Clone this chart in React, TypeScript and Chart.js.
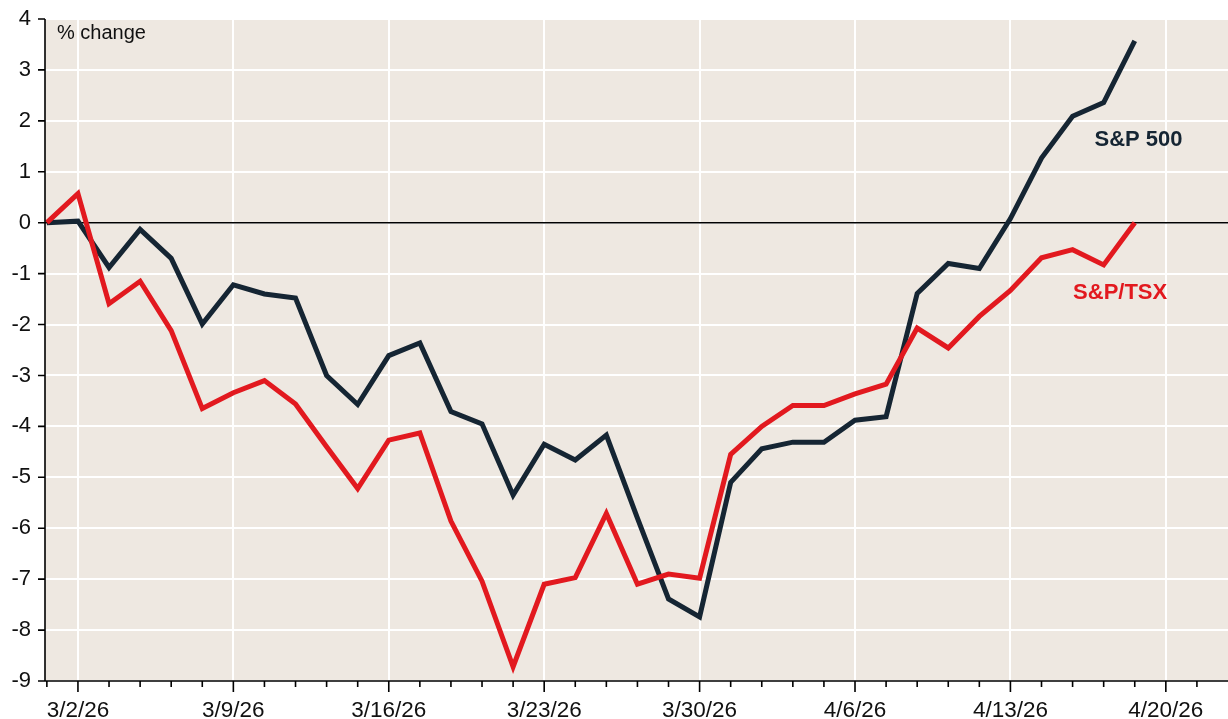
import React, { useEffect, useRef } from "react";
import { Chart, registerables } from "chart.js";

Chart.register(...registerables);

// Trading days on the axis (index = position on the x scale)
const tradingDays: string[] = [
  "2/27/26",
  "3/2/26", "3/3/26", "3/4/26", "3/5/26", "3/6/26",
  "3/9/26", "3/10/26", "3/11/26", "3/12/26", "3/13/26",
  "3/16/26", "3/17/26", "3/18/26", "3/19/26", "3/20/26",
  "3/23/26", "3/24/26", "3/25/26", "3/26/26", "3/27/26",
  "3/30/26", "3/31/26", "4/1/26", "4/2/26", "4/3/26",
  "4/6/26", "4/7/26", "4/8/26", "4/9/26", "4/10/26",
  "4/13/26", "4/14/26", "4/15/26", "4/16/26", "4/17/26",
  "4/20/26", "4/21/26", "4/22/26",
];

const tickLabels: string[] = ["3/2/26", "3/9/26", "3/16/26", "3/23/26", "3/30/26", "4/6/26", "4/13/26", "4/20/26"];

// % change since 2/27/26
const sp500: number[] = [
  0, 0.03, -0.88, -0.13, -0.7, -1.99, -1.22, -1.4, -1.48, -3.0, -3.57, -2.61, -2.36, -3.71, -3.95, -5.35,
  -4.35, -4.66, -4.17, -5.8, -7.39, -7.74, -5.1, -4.44, -4.31, -4.31, -3.88, -3.81, -1.39, -0.8, -0.9, 0.08,
  1.27, 2.09, 2.36, 3.57,
];
const tsx: number[] = [
  0, 0.57, -1.59, -1.15, -2.12, -3.65, -3.34, -3.1, -3.56, -4.4, -5.22, -4.27, -4.13, -5.86, -7.04, -8.72,
  -7.1, -6.97, -5.71, -7.1, -6.9, -6.98, -4.55, -4.0, -3.59, -3.59, -3.36, -3.17, -2.07, -2.46, -1.84, -1.33,
  -0.69, -0.53, -0.83, 0.0,
];

const seriesNames = ["S&P 500", "S&P/TSX"];
const NAVY = "#152533";
const RED = "#e2191f";
const BG = "#eee8e1";
const FONT = "'Liberation Sans', Arial, sans-serif";

export default function App() {
  const ref = useRef<HTMLCanvasElement | null>(null);

  useEffect(() => {
    document.body.style.margin = "0";
    const canvas = ref.current;
    if (!canvas) return;
    const majorIdx = tickLabels.map((l) => tradingDays.indexOf(l));
    const xMax = tradingDays.length - 1;

    const plugin = {
      id: "custom",
      beforeDraw(chart: any) {
        const { ctx, chartArea: a } = chart;
        ctx.save();
        ctx.fillStyle = BG;
        ctx.fillRect(a.left, a.top, a.right - a.left, a.bottom - a.top);
        ctx.restore();
      },
      beforeDatasetsDraw(chart: any) {
        const { ctx, chartArea: a, scales } = chart;
        const y0 = scales.y.getPixelForValue(0);
        ctx.save();
        ctx.strokeStyle = "#000";
        ctx.lineWidth = 1.6;
        ctx.beginPath();
        ctx.moveTo(a.left, y0);
        ctx.lineTo(a.right, y0);
        ctx.stroke();
        ctx.restore();
      },
      afterDraw(chart: any) {
        const { ctx, chartArea: a, scales } = chart;
        const xs = scales.x;
        const ys = scales.y;
        ctx.save();
        ctx.strokeStyle = "#000";
        ctx.lineWidth = 1.6;
        ctx.beginPath();
        // axes
        ctx.moveTo(a.left, a.top);
        ctx.lineTo(a.left, a.bottom);
        ctx.lineTo(a.right, a.bottom);
        // y ticks
        for (let v = -9; v <= 4; v++) {
          const py = ys.getPixelForValue(v);
          ctx.moveTo(a.left - 7, py);
          ctx.lineTo(a.left, py);
        }
        // x ticks
        for (let i = 0; i < xMax; i++) {
          const px = xs.getPixelForValue(i);
          const len = majorIdx.includes(i) ? 11 : 6;
          ctx.moveTo(px, a.bottom);
          ctx.lineTo(px, a.bottom + len);
        }
        ctx.stroke();

        // text
        ctx.fillStyle = "#111";
        ctx.font = `20px ${FONT}`;
        ctx.textAlign = "left";
        ctx.textBaseline = "alphabetic";
        ctx.fillText("% change", a.left + 12, a.top + 20);

        ctx.font = `bold 22px ${FONT}`;
        ctx.textAlign = "center";
        ctx.fillStyle = NAVY;
        ctx.fillText(seriesNames[0], xs.getPixelForValue(35.12), ys.getPixelForValue(1.51));
        ctx.fillStyle = RED;
        ctx.fillText(seriesNames[1], xs.getPixelForValue(34.53), ys.getPixelForValue(-1.5));
        ctx.restore();
      },
    };

    const chart = new Chart(canvas, {
      type: "line",
      data: {
        datasets: [
          {
            label: seriesNames[0],
            data: sp500.map((v, i) => ({ x: i, y: v })),
            borderColor: NAVY,
            borderWidth: 5,
            pointRadius: 0,
            tension: 0,
            borderJoinStyle: "miter",
            order: 2,
          },
          {
            label: seriesNames[1],
            data: tsx.map((v, i) => ({ x: i, y: v })),
            borderColor: RED,
            borderWidth: 5,
            pointRadius: 0,
            tension: 0,
            borderJoinStyle: "miter",
            order: 1,
          },
        ],
      },
      options: {
        animation: false,
        responsive: false,
        maintainAspectRatio: false,
        layout: { padding: { top: 19, right: 0, left: 0, bottom: 0 } },
        plugins: { legend: { display: false }, tooltip: { enabled: false } },
        scales: {
          x: {
            type: "linear",
            min: -0.06,
            max: xMax,
            afterBuildTicks: (scale: any) => {
              const t = [];
              for (let i = 0; i < xMax; i++) t.push({ value: i });
              scale.ticks = t;
            },
            afterFit: (scale: any) => {
              scale.height = 38;
              scale.paddingLeft = 0;
              scale.paddingRight = 0;
            },
            ticks: {
              autoSkip: false,
              maxRotation: 0,
              padding: 16,
              color: "#111",
              font: { family: FONT, size: 22.5 },
              callback: (value: any) => (majorIdx.includes(value) ? tradingDays[value] : ""),
            },
            grid: {
              drawTicks: false,
              color: (ctx: any) => (ctx.tick && majorIdx.includes(ctx.tick.value) ? "#ffffff" : "rgba(0,0,0,0)"),
              lineWidth: 2,
            },
            border: { display: false },
          },
          y: {
            min: -9,
            max: 4,
            afterFit: (scale: any) => {
              scale.width = 45;
              scale.paddingTop = 0;
              scale.paddingBottom = 0;
            },
            ticks: {
              stepSize: 1,
              padding: 14,
              color: "#111",
              font: { family: FONT, size: 22 },
            },
            grid: { drawTicks: false, color: "#ffffff", lineWidth: 2 },
            border: { display: false },
          },
        },
      },
      plugins: [plugin],
    } as any);

    return () => chart.destroy();
  }, []);

  return (
    <div style={{ position: "absolute", left: 0, top: 0, width: 1228, height: 719 }}>
      <canvas ref={ref} width={1228} height={719} style={{ width: 1228, height: 719, display: "block" }} />
    </div>
  );
}
